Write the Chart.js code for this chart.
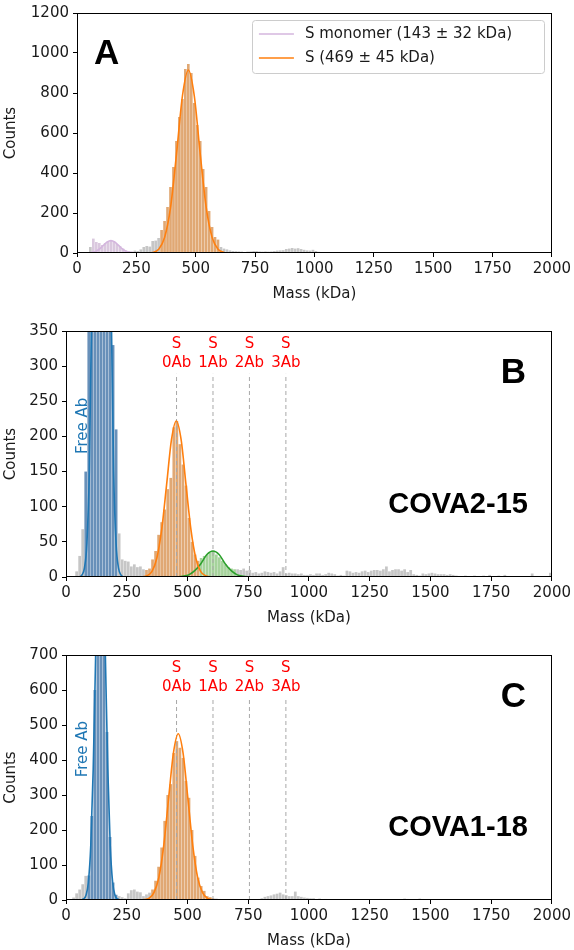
<!DOCTYPE html>
<html>
<head>
<meta charset="utf-8">
<script src="https://cdn.jsdelivr.net/npm/chart.js@4.4.0/dist/chart.umd.min.js"></script>
<style>
  html, body { margin: 0; padding: 0; background: #fff; overflow: hidden; }
  .panel { position: absolute; left: 0; width: 574px; }
  #boxA { top: 0; height: 307px; }
  #boxB { top: 307px; height: 324px; }
  #boxC { top: 631px; height: 319px; }
</style>
</head>
<body>
<div class="panel" id="boxA"><canvas id="chartA"></canvas></div>
<div class="panel" id="boxB"><canvas id="chartB"></canvas></div>
<div class="panel" id="boxC"><canvas id="chartC"></canvas></div>
<script>
// histogram bins: 12.5 kDa wide, 0 -> 2000 kDa (160 bins)
var binWidth = 12.5;

var countsA = [
  0, 0, 0, 0, 30, 72, 55, 50, 40, 50,
  58, 62, 55, 45, 35, 22, 14, 10, 8, 12,
  10, 18, 30, 35, 32, 60, 62, 75, 115, 160,
  230, 330, 430, 560, 680, 770, 920, 945, 900, 750,
  640, 560, 420, 330, 210, 130, 80, 67, 30, 22,
  18, 13, 10, 9, 8, 7, 5, 7, 8, 10,
  10, 8, 7, 8, 7, 8, 10, 12, 13, 14,
  20, 22, 25, 22, 24, 20, 16, 13, 12, 16,
  10, 6, 4, 3, 2, 0, 1, 0, 0, 2,
  0, 0, 1, 0, 0, 0, 0, 0, 3, 0,
  0, 0, 0, 1, 0, 0, 0, 0, 0, 0,
  2, 0, 0, 0, 0, 0, 2, 0, 0, 0,
  0, 0, 0, 0, 0, 1, 0, 0, 0, 0,
  0, 0, 0, 0, 0, 1, 0, 0, 0, 0,
  0, 0, 0, 0, 0, 0, 0, 0, 0, 0,
  0, 0, 0, 0, 0, 0, 0, 0, 0, 0,
];
var countsB = [
  0, 0, 0, 8, 30, 68, 150, 420, 800, 1200,
  1500, 1600, 1400, 1000, 600, 330, 210, 62, 25, 23,
  22, 15, 18, 14, 15, 11, 10, 12, 25, 37,
  60, 78, 96, 125, 141, 213, 222, 189, 160, 130,
  84, 50, 32, 23, 27, 30, 32, 35, 37, 32,
  28, 23, 18, 14, 12, 11, 11, 10, 12, 9,
  10, 6, 7, 5, 6, 8, 7, 6, 7, 5,
  8, 14, 5, 6, 5, 5, 4, 5, 3, 3,
  4, 3, 5, 5, 3, 4, 6, 5, 4, 2,
  3, 2, 9, 8, 6, 7, 6, 8, 9, 7,
  9, 10, 10, 9, 11, 15, 8, 10, 11, 11,
  9, 11, 7, 10, 4, 3, 2, 5, 4, 5,
  6, 5, 4, 4, 4, 3, 4, 3, 2, 1,
  0, 2, 0, 1, 2, 0, 1, 2, 0, 3,
  1, 0, 2, 0, 3, 0, 1, 0, 1, 0,
  0, 1, 0, 5, 0, 1, 0, 0, 1, 6,
];
var countsC = [
  0, 0, 7, 19, 30, 45, 69, 70, 240, 600,
  1000, 1150, 900, 480, 180, 50, 15, 11, 8, 5,
  19, 28, 30, 24, 22, 11, 16, 21, 30, 55,
  95, 150, 226, 300, 331, 420, 454, 435, 406, 340,
  292, 200, 126, 64, 40, 26, 11, 8, 5, 4,
  3, 2, 1, 0, 2, 0, 1, 0, 1, 2,
  0, 1, 2, 3, 5, 9, 11, 13, 16, 18,
  21, 16, 14, 11, 11, 24, 11, 9, 7, 6,
  5, 5, 3, 4, 2, 3, 1, 2, 1, 0,
  0, 0, 0, 0, 0, 2, 0, 0, 0, 0,
  2, 0, 0, 3, 0, 0, 2, 0, 2, 0,
  0, 4, 3, 0, 2, 0, 4, 3, 0, 0,
  2, 0, 0, 0, 0, 1, 0, 0, 0, 0,
  2, 0, 0, 0, 0, 1, 0, 0, 0, 0,
  1, 0, 0, 0, 0, 0, 0, 0, 2, 0,
  0, 0, 0, 0, 0, 0, 0, 0, 0, 0,
];

// gaussian fit curves (mass in kDa, counts)
var monoFitMassA = [47, 63, 79, 95, 111, 127, 143, 159, 175, 191, 207, 223, 239];
var monoFitCountA = [1, 3, 8, 20, 38, 55, 62, 55, 38, 20, 8, 3, 1];
var spikeFitMassA = [294, 319, 344, 369, 394, 419, 444, 469, 494, 519, 544, 569, 594, 619, 644, 700];
var spikeFitCountA = [0, 3, 19, 78, 228, 494, 785, 915, 785, 494, 228, 78, 19, 3, 0, 0];

var abFitMassB = [56, 66, 76, 86, 96, 106, 116, 126, 136, 146, 156, 166, 176, 186, 196, 206, 216, 226, 236];
var abFitCountB = [0, 3, 13, 48, 151, 383, 789, 1323, 1804, 2000, 1804, 1323, 789, 383, 151, 48, 13, 3, 0];
var spikeFitMassB = [314, 334, 354, 374, 394, 414, 434, 454, 474, 494, 514, 534, 554, 574, 594];
var spikeFitCountB = [0, 2, 8, 27, 68, 131, 195, 222, 195, 131, 68, 27, 8, 2, 0];
var oneAbFitMassB = [455, 480, 505, 530, 555, 580, 605, 630, 655, 680, 705, 730, 755];
var oneAbFitCountB = [0, 1, 3, 9, 19, 32, 37, 32, 19, 9, 3, 1, 0];

var abFitMassC = [62, 72, 82, 92, 102, 112, 122, 132, 142, 152, 162, 172, 182, 192, 202, 212, 222];
var abFitCountC = [0, 3, 13, 50, 156, 374, 698, 1015, 1150, 1015, 698, 374, 156, 50, 13, 3, 0];
var spikeFitMassC = [302, 322, 342, 362, 382, 402, 422, 442, 462, 482, 502, 522, 542, 562, 582, 602, 622, 660];
var spikeFitCountC = [0, 1, 5, 21, 64, 154, 288, 419, 475, 419, 288, 154, 64, 21, 5, 1, 0, 0];

// fit windows (kDa) whose bars are shaded in the fit colour
var windowsA = [[62, 237, "mono"], [350, 600, "spike"]];
var windowsB = [[80, 215, "ab"], [325, 545, "spike"], [545, 700, "oneAb"]];
var windowsC = [[85, 212, "ab"], [350, 600, "spike"]];

// expected masses of S + n antibodies
var complexMasses = [455, 605, 755, 905];
var complexLabels = [["S", "0Ab"], ["S", "1Ab"], ["S", "2Ab"], ["S", "3Ab"]];
var legendLabelsA = ["S monomer (143 \u00b1 32 kDa)", "S (469 \u00b1 45 kDa)"];
var antibodies = ["COVA2-15", "COVA1-18"];

var ink = "#1a1a1a";
var tickFont = { family: "'DejaVu Sans', sans-serif", size: 15 };
var barShade = { mono: "#dac8de", spike: "#e0a874", ab: "#6890b9", oneAb: "#a6d39c" };
var fitColor = { mono: "#d4b6de", spike: "#ff7f0e", ab: "#1f77b4", oneAb: "#2ca02c" };

function bars(counts, windows) {
  var pts = counts.map(function (c, i) { return { x: (i + 0.5) * binWidth, y: c }; });
  var colors = pts.map(function (p) {
    for (var k = 0; k < windows.length; k++) {
      if (p.x >= windows[k][0] && p.x < windows[k][1]) return barShade[windows[k][2]];
    }
    return "#c6c6c6";
  });
  return {
    type: "bar",
    data: pts,
    backgroundColor: colors,
    barPercentage: 0.9,
    categoryPercentage: 1,
    order: 10,
  };
}

function fit(mass, count, key) {
  return {
    type: "line",
    data: mass.map(function (m, i) { return { x: m, y: count[i] }; }),
    borderColor: fitColor[key],
    borderWidth: 1.6,
    pointRadius: 0,
    cubicInterpolationMode: "monotone",
    fill: false,
    order: 1,
  };
}

function marker(mass, top) {
  return {
    type: "line",
    data: [{ x: mass, y: 0 }, { x: mass, y: top }],
    borderColor: "#a8a8a8",
    borderWidth: 1,
    borderDash: [4, 3],
    pointRadius: 0,
    order: 5,
  };
}

var decor = {
  id: "decor",
  afterDatasetsDraw: function (chart, args, o) {
    var ctx = chart.ctx, a = chart.chartArea, x = chart.scales.x, y = chart.scales.y;
    ctx.save();
    ctx.strokeStyle = "#000";
    ctx.lineWidth = 1;
    ctx.strokeRect(Math.round(a.left) + 0.5, Math.round(a.top) + 0.5,
      Math.round(a.right) - Math.round(a.left) - 1, Math.round(a.bottom) - Math.round(a.top) - 1);

    // panel letter
    ctx.fillStyle = "#000";
    ctx.font = "bold 35px 'Liberation Sans', Arial, sans-serif";
    ctx.textBaseline = "alphabetic";
    if (o.letterRight) {
      ctx.textAlign = "right";
      ctx.fillText(o.letter, a.right - 26, a.top + 52);
    } else {
      ctx.textAlign = "left";
      ctx.fillText(o.letter, a.left + 17, a.top + 51);
    }

    if (o.antibody) {
      ctx.font = "bold 29px 'Liberation Sans', Arial, sans-serif";
      ctx.textAlign = "right";
      ctx.fillText(o.antibody, a.right - 24, a.bottom - 64);
    }

    if (o.markerTop) {
      ctx.fillStyle = "#ff0000";
      ctx.font = "15px 'DejaVu Sans', sans-serif";
      ctx.textAlign = "center";
      ctx.textBaseline = "middle";
      var yt = y.getPixelForValue(o.markerTop);
      complexMasses.forEach(function (m, i) {
        var px = x.getPixelForValue(m);
        ctx.fillText(complexLabels[i][0], px, yt - 30);
        ctx.fillText(complexLabels[i][1], px, yt - 11);
      });
    }

    if (o.freeAb) {
      ctx.save();
      ctx.translate(x.getPixelForValue(o.freeAb[0]), y.getPixelForValue(o.freeAb[1]));
      ctx.rotate(-Math.PI / 2);
      ctx.fillStyle = fitColor.ab;
      ctx.font = "15px 'DejaVu Sans', sans-serif";
      ctx.textAlign = "center";
      ctx.textBaseline = "middle";
      ctx.fillText("Free Ab", 0, 0);
      ctx.restore();
    }

    if (o.legend) {
      var bx = a.right - 300, by = a.top + 7, bw = 292, bh = 53;
      ctx.fillStyle = "rgba(255,255,255,0.85)";
      ctx.strokeStyle = "#cccccc";
      ctx.lineWidth = 1;
      ctx.beginPath();
      ctx.roundRect(Math.round(bx) + 0.5, Math.round(by) + 0.5, bw, bh, 3);
      ctx.fill();
      ctx.stroke();
      var keys = ["mono", "spike"];
      ctx.font = "15px 'DejaVu Sans', sans-serif";
      ctx.textAlign = "left";
      ctx.textBaseline = "middle";
      o.legend.forEach(function (txt, i) {
        var ly = by + 14 + i * 24;
        ctx.strokeStyle = fitColor[keys[i]];
        ctx.lineWidth = 1.6;
        ctx.beginPath();
        ctx.moveTo(bx + 7, ly);
        ctx.lineTo(bx + 42, ly);
        ctx.stroke();
        ctx.fillStyle = ink;
        ctx.fillText(txt, bx + 53, ly);
      });
    }
    ctx.restore();
  },
};

function plain(v) { return String(v); }

function axes(yMax, yStep, leftWidth) {
  return {
    x: {
      type: "linear",
      min: 0,
      max: 2000,
      offset: false,
      ticks: { stepSize: 250, font: tickFont, color: ink, padding: 3, maxRotation: 0, autoSkip: false, callback: plain },
      grid: { drawOnChartArea: false, tickLength: 4, color: "#000", offset: false },
      border: { display: false },
      title: { display: true, text: "Mass (kDa)", font: tickFont, color: ink, padding: 0 },
      afterFit: function (s) { s.height = 50; },
    },
    y: {
      min: 0,
      max: yMax,
      ticks: { stepSize: yStep, font: tickFont, color: ink, padding: 4, callback: plain },
      grid: { drawOnChartArea: false, tickLength: 4, color: "#000" },
      border: { display: false },
      title: { display: true, text: "Counts", font: tickFont, color: ink, padding: { top: 2, bottom: 0 } },
      afterFit: function (s) { s.width = leftWidth; },
    },
  };
}

function makeChart(id, datasets, scales, padding, decorOpts) {
  var ctx = document.getElementById(id).getContext("2d");
  return new Chart(ctx, {
    type: "bar",
    data: { datasets: datasets },
    options: {
      responsive: true,
      maintainAspectRatio: false,
      animation: false,
      layout: { padding: padding },
      scales: scales,
      plugins: {
        legend: { display: false },
        tooltip: { enabled: false },
        decor: decorOpts,
      },
    },
    plugins: [decor],
  });
}

makeChart("chartA", [
  fit(monoFitMassA, monoFitCountA, "mono"),
  fit(spikeFitMassA, spikeFitCountA, "spike"),
  bars(countsA, windowsA),
], axes(1200, 200, 77), { top: 4, right: 21, bottom: 4, left: 0 },
  { letter: "A", legend: legendLabelsA });

makeChart("chartB", [
  fit(abFitMassB, abFitCountB, "ab"),
  fit(spikeFitMassB, spikeFitCountB, "spike"),
  fit(oneAbFitMassB, oneAbFitCountB, "oneAb"),
].concat(complexMasses.map(function (m) { return marker(m, 289); }))
 .concat([bars(countsB, windowsB)]),
  axes(350, 50, 66), { top: 24, right: 21, bottom: 4, left: 0 },
  { letter: "B", letterRight: true, antibody: antibodies[0], markerTop: 289, freeAb: [69, 215] });

makeChart("chartC", [
  fit(abFitMassC, abFitCountC, "ab"),
  fit(spikeFitMassC, spikeFitCountC, "spike"),
].concat(complexMasses.map(function (m) { return marker(m, 577); }))
 .concat([bars(countsC, windowsC)]),
  axes(700, 100, 66), { top: 24, right: 21, bottom: 0, left: 0 },
  { letter: "C", letterRight: true, antibody: antibodies[1], markerTop: 577, freeAb: [69, 431] });
</script>
</body>
</html>
